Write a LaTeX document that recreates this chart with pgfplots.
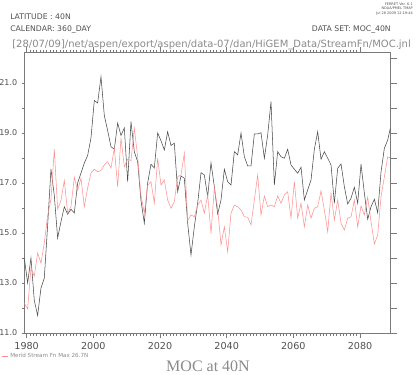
\documentclass[border=0pt]{standalone}
\usepackage{pgfplots}
\pgfplotsset{compat=1.18}
\usepackage{pgfplotstable}
\usepackage{fontspec}
\setmainfont{DejaVu Sans}
\newfontfamily\seriffont{Liberation Serif}
\definecolor{txt}{HTML}{505050}
\definecolor{lighttxt}{HTML}{8A8A8A}
\definecolor{axgray}{HTML}{7A7A7A}
\definecolor{blk}{HTML}{474747}
\definecolor{pinkred}{HTML}{FF9090}

\pgfplotstableread{
yr blk red
1979 14.0 12.19
1980 13.0 11.97
1981 14.0 13.6
1982 12.3 13.28
1983 11.7 14.2
1984 12.8 13.79
1985 13.2 14.6
1986 15.3 15.7
1987 17.55 16.35
1988 16.5 18.35
1989 14.8 15.95
1990 15.45 16.3
1991 16.05 17.1
1992 15.75 15.8
1993 15.95 16.05
1994 15.8 17.23
1995 17.0 16.7
1996 17.4 17.19
1997 17.8 16.05
1998 18.1 16.8
1999 18.8 17.4
2000 20.3 17.55
2001 20.2 17.45
2002 21.25 17.5
2003 19.7 17.72
2004 19.1 17.85
2005 18.45 17.6
2006 18.35 18.4
2007 19.4 16.85
2008 18.9 18.8
2009 19.2 17.65
2010 17.05 17.95
2011 19.45 17.9
2012 18.25 19.19
2013 17.85 18.05
2014 16.3 16.5
2015 15.39 15.79
2016 17.0 16.92
2017 17.75 17.05
2018 17.6 16.19
2019 19.0 17.99
2020 18.69 16.92
2021 18.32 17.12
2022 19.05 16.32
2023 18.5 15.99
2024 18.59 16.25
2025 16.65 17.25
2026 17.28 17.32
2027 17.19 18.19
2028 15.39 15.5
2029 14.12 15.72
2030 15.25 15.65
2031 16.19 16.12
2032 17.41 16.32
2033 17.32 15.79
2034 16.45 16.52
2035 17.81 14.99
2036 16.85 16.79
2037 15.76 15.99
2038 16.32 14.52
2039 17.55 15.25
2040 17.05 14.25
2041 16.92 15.79
2042 18.25 16.12
2043 18.12 16.05
2044 19.0 15.92
2045 18.05 15.65
2046 17.68 15.63
2047 17.68 15.32
2048 18.96 16.32
2049 18.96 17.32
2050 19.01 15.72
2051 17.99 16.48
2052 18.92 16.05
2053 20.25 16.12
2054 16.92 16.05
2055 18.25 16.48
2056 18.05 16.19
2057 17.99 16.52
2058 18.35 16.65
2059 17.72 15.59
2060 17.55 17.05
2061 17.39 15.59
2062 17.63 16.19
2063 16.32 15.25
2064 16.72 16.12
2065 17.12 15.59
2066 18.35 15.99
2067 19.05 16.05
2068 17.95 16.69
2069 18.25 15.92
2070 17.99 15.05
2071 17.72 16.59
2072 16.19 15.52
2073 17.59 16.32
2074 17.76 15.39
2075 16.85 15.12
2076 16.16 15.59
2077 16.39 15.65
2078 16.83 16.32
2079 16.19 15.25
2080 17.75 16.08
2081 16.59 15.72
2082 15.55 16.43
2083 16.05 15.45
2084 16.35 14.56
2085 15.81 14.92
2086 17.45 16.45
2087 18.39 17.25
2088 18.72 18.05
2089 19.32 17.99
}\moc

\begin{document}
\begin{tikzpicture}
\path[use as bounding box] (0pt,0pt) rectangle (312pt,280.5pt);

\pgfplotsset{
  mocbase/.style={
    at={(18.225pt,30.75pt)}, anchor=south west, scale only axis,
    width=274.3pt, height=210.4pt,
    xmin=1979.3, xmax=2089.0, ymin=11, ymax=22.22,
    tick align=outside,
    every tick/.style={axgray, line width=0.4pt},
    /pgf/number format/assume math mode=true,
    clip=true,
  }
}

% main axis: data, axis lines, left y ticks and labels
\begin{axis}[mocbase,
  axis line style={axgray, line width=0.5pt},
  xtick=\empty,
  ytick={11,13,...,21}, minor y tick num=1,
  ytick pos=left,
  major tick length=1.8pt, minor tick length=1.8pt,
  yticklabel style={font=\fontsize{6}{7}\selectfont, text=txt,
    /pgf/number format/.cd, fixed, fixed zerofill, precision=1},
]
\addplot[blk, line width=0.4pt] table[x expr=\thisrow{yr}+0.3, y=blk] {\moc};
\addplot[pinkred, line width=0.4pt] table[x expr=\thisrow{yr}+0.3, y=red] {\moc};
\end{axis}

% x ticks on bottom and top
\begin{axis}[mocbase,
  axis line style={draw=none},
  ytick=\empty,
  xtick={1980,2000,...,2080}, minor x tick num=19,
  xtick pos=both, xticklabel pos=lower,
  major tick length=3.8pt, minor tick length=2.2pt,
  xticklabel style={font=\fontsize{7.2}{8}\selectfont, text=txt,
    /pgf/number format/.cd, 1000 sep={}},
]
\end{axis}

% right y ticks
\begin{axis}[mocbase,
  axis line style={draw=none},
  xtick=\empty,
  ytick={11,12,...,22}, ytick pos=right,
  yticklabels={},
  major tick length=5pt,
]
\end{axis}

% header texts
\node[anchor=base west, inner sep=0pt, text=txt, font=\fontsize{5.8}{6}\selectfont] at (7.5pt,265.9pt) {LATITUDE : 40N};
\node[anchor=base west, inner sep=0pt, text=txt, font=\fontsize{5.8}{6}\selectfont] at (7.5pt,257pt) {CALENDAR: 360\_DAY};
\node[anchor=base east, inner sep=0pt, text=txt, font=\fontsize{5.8}{6}\selectfont] at (293.25pt,257pt) {DATA SET: MOC\_40N};
\node[anchor=base west, inner sep=0pt, text=lighttxt, font=\fontsize{7.5}{8}\selectfont] at (9pt,244.9pt) {[28/07/09]/net/aspen/export/aspen/data-07/dan/HiGEM\_Data/StreamFn/MOC.jnl};

% ferret stamp
\node[anchor=base east, inner sep=0pt, text=txt, font=\fontsize{2.6}{3}\selectfont] at (309.75pt,276.4pt) {FERRET Ver. 6.1};
\node[anchor=base east, inner sep=0pt, text=txt, font=\fontsize{2.6}{3}\selectfont] at (309.75pt,273pt) {NOAA/PMEL TMAP};
\node[anchor=base east, inner sep=0pt, text=txt, font=\fontsize{2.6}{3}\selectfont] at (309.75pt,269.6pt) {Jul 28 2009 12:19:44};

% legend
\draw[pinkred, line width=0.45pt] (1.5pt,13.6pt) -- (6pt,13.6pt);
\node[anchor=base west, inner sep=0pt, text=lighttxt, font=\fontsize{4.2}{5}\selectfont] at (7.5pt,12.2pt) {Merid Stream Fn Max 26.7N};

% title
\node[anchor=base, inner sep=0pt, text=lighttxt, font=\seriffont\fontsize{12}{14}\selectfont] at (156pt,1.8pt) {MOC at 40N};
\end{tikzpicture}
\end{document}
